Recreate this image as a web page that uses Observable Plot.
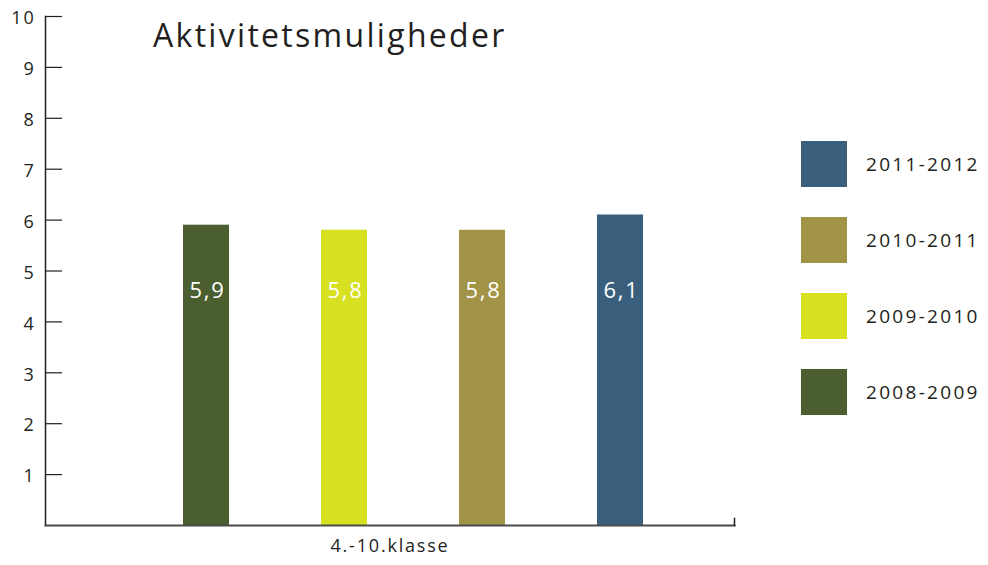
<!DOCTYPE html>
<html>
<head>
<meta charset="utf-8">
<script src="https://cdn.jsdelivr.net/npm/d3@7"></script>
<script src="https://cdn.jsdelivr.net/npm/@observablehq/plot@0.6"></script>
<style>
  html, body { margin: 0; padding: 0; background: #fff; }
  #wrap { position: relative; width: 988px; height: 565px; font-family: "Open Sans", sans-serif; }
  #title { position: absolute; left: 153px; top: 13px; font-size: 32px; color: #231f20; letter-spacing: 2.3px; }
  #legend { position: absolute; left: 801px; top: 141px; }
  .item { display: flex; align-items: center; height: 46px; margin-bottom: 30px; }
  .sw { width: 46px; height: 46px; margin-right: 19px; }
  .lab { font-size: 19px; color: #231f20; letter-spacing: 2.3px; }
</style>
</head>
<body>
<div id="wrap">
  <div id="chart"></div>
  <div id="title"></div>
  <div id="legend"></div>
</div>
<script>
const title = "Aktivitetsmuligheder";
const groupLabel = "4.-10.klasse";
const seasons = ["2008-2009", "2009-2010", "2010-2011", "2011-2012"];
const values = [5.9, 5.8, 5.8, 6.1];
const labels = ["5,9", "5,8", "5,8", "6,1"];
const colors = ["#4a5e2f", "#d8e022", "#a19447", "#3a5f7c"];
const yTicks = [1, 2, 3, 4, 5, 6, 7, 8, 9, 10];
const yLabels = ["1", "2", "3", "4", "5", "6", "7", "8", "9", "10"];

const data = seasons.map((s, i) => ({season: s, value: values[i], label: labels[i]}));

const chart = Plot.plot({
  width: 988,
  height: 565,
  marginLeft: 45,
  marginRight: 254,
  marginTop: 16,
  marginBottom: 40,
  style: {fontFamily: "Open Sans, sans-serif", color: "#231f20", background: "transparent", letterSpacing: "1.8px"},
  x: {domain: seasons, range: [183, 643], padding: 2 / 3, paddingOuter: 0, axis: null},
  y: {domain: [0, 10], axis: null},
  color: {domain: seasons, range: colors},
  marks: [
    Plot.barY(data, {x: "season", y: "value", fill: "season"}),
    Plot.text(data, {x: "season", text: "label", frameAnchor: "bottom", dy: -228, fill: "white", fontSize: 22, dx: 1}),
    Plot.ruleY(yTicks, {y: d => d, stroke: "#231f20", strokeWidth: 1.2, insetRight: 672}),
    Plot.text(yTicks, {y: d => d, text: (d, i) => yLabels[i], frameAnchor: "left", textAnchor: "end", dx: -10, dy: 2, fontSize: 18, fill: "#231f20"}),
    Plot.frame({anchor: "left", stroke: "#231f20", strokeWidth: 1.5}),
    Plot.frame({anchor: "bottom", stroke: "#4a4a4a", strokeWidth: 2}),
    Plot.frame({anchor: "right", stroke: "#231f20", strokeWidth: 1.5, insetTop: 502}),
    Plot.text([groupLabel], {text: d => d, frameAnchor: "bottom", dy: 26, fontSize: 18, fill: "#231f20"})
  ]
});
document.getElementById("chart").appendChild(chart);
document.getElementById("title").textContent = title;

const legend = document.getElementById("legend");
for (let i = seasons.length - 1; i >= 0; i--) {
  const item = document.createElement("div");
  item.className = "item";
  const sw = document.createElement("div");
  sw.className = "sw";
  sw.style.background = colors[i];
  const lab = document.createElement("span");
  lab.className = "lab";
  lab.textContent = seasons[i];
  item.appendChild(sw);
  item.appendChild(lab);
  legend.appendChild(item);
}
</script>
</body>
</html>
